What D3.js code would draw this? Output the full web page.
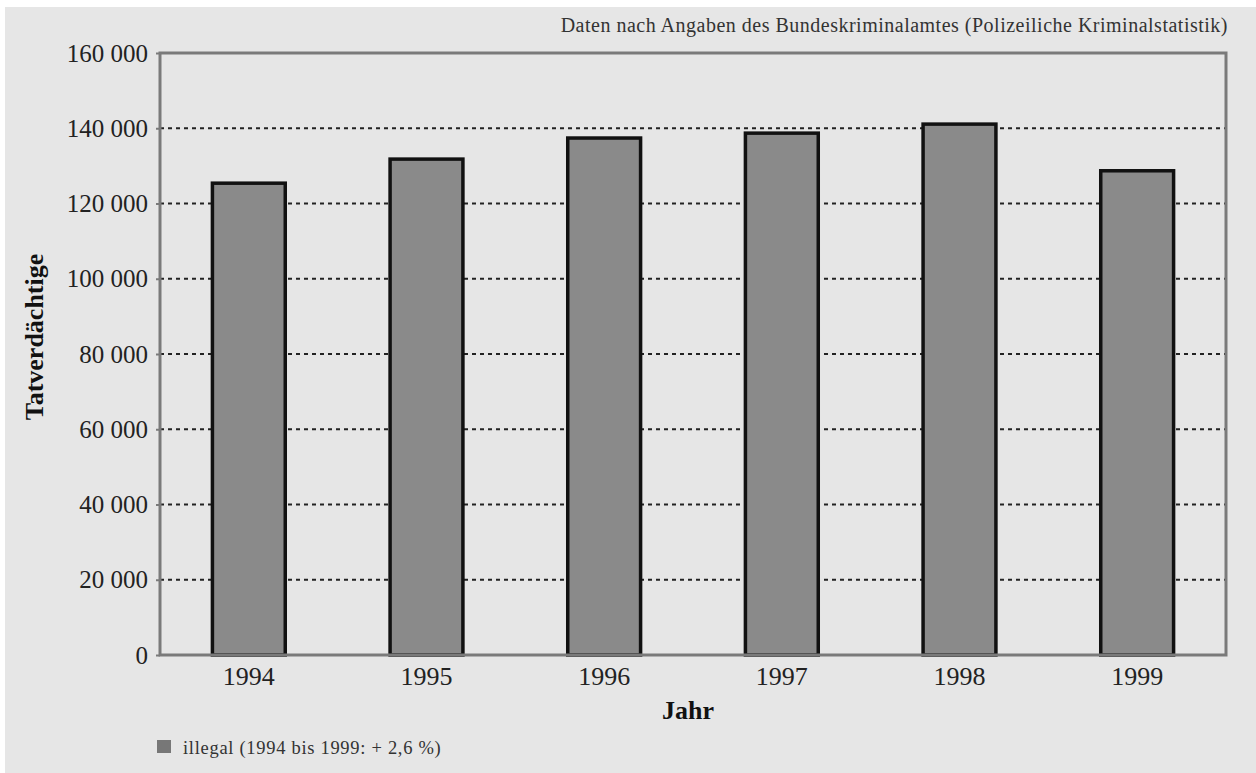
<!DOCTYPE html>
<html>
<head>
<meta charset="utf-8">
<script src="https://cdn.jsdelivr.net/npm/d3@7"></script>
<style>
  body { margin: 0; background: #fff; }
  svg { display: block; }
  svg text { font-family: "Liberation Serif", "DejaVu Serif", serif; }
</style>
</head>
<body>
<div id="graphic"></div>
<script>
// data
const years = ["1994", "1995", "1996", "1997", "1998", "1999"];
const suspects = [125400, 131800, 137400, 138700, 141100, 128700];
const yTicks = [0, 20000, 40000, 60000, 80000, 100000, 120000, 140000, 160000];
const yTickLabels = ["0", "20 000", "40 000", "60 000", "80 000", "100 000", "120 000", "140 000", "160 000"];
const legendLabel = "illegal (1994 bis 1999: + 2,6 %)";
const sourceNote = "Daten nach Angaben des Bundeskriminalamtes (Polizeiliche Kriminalstatistik)";

const W = 1256, H = 773;
const margin = { top: 53, right: 30, bottom: 118, left: 160 },
    width = W - margin.left - margin.right,
    height = H - margin.top - margin.bottom;

const root = d3.select("#graphic")
    .append("svg")
    .attr("width", W)
    .attr("height", H);

// grey page with the white edge at top/left
root.append("rect")
    .attr("x", 5).attr("y", 7)
    .attr("width", W - 5).attr("height", H - 7)
    .attr("fill", "#e6e6e6");

const svg = root.append("g")
    .attr("transform", `translate(${margin.left},${margin.top})`);

const x = d3.scaleBand()
    .range([0, width])
    .domain(years)
    .paddingInner(0.59)
    .paddingOuter(0.295);

const y = d3.scaleLinear()
    .domain([0, 160000])
    .range([height, 0]);

// dashed gridlines
svg.append("g")
    .selectAll("line")
    .data(yTicks.filter(d => d > 0 && d < 160000))
    .join("line")
    .attr("x1", 0).attr("x2", width)
    .attr("y1", d => y(d)).attr("y2", d => y(d))
    .attr("stroke", "#222")
    .attr("stroke-width", 2)
    .attr("stroke-dasharray", "4,4");

// bars
svg.selectAll("mybar")
    .data(years.map((yr, i) => ({ year: yr, value: suspects[i] })))
    .join("rect")
    .attr("x", d => x(d.year))
    .attr("y", d => y(d.value))
    .attr("width", x.bandwidth())
    .attr("height", d => height - y(d.value))
    .attr("fill", "#8a8a8a")
    .attr("stroke", "#111")
    .attr("stroke-width", 3.5);

// frame
svg.append("rect")
    .attr("x", 0).attr("y", 0)
    .attr("width", width).attr("height", height)
    .attr("fill", "none")
    .attr("stroke", "#7a7a7a")
    .attr("stroke-width", 3);

// Y axis
const yAxis = svg.append("g")
    .call(d3.axisLeft(y)
        .tickValues(yTicks)
        .tickSize(4)
        .tickPadding(8)
        .tickFormat((d, i) => yTickLabels[i]));
yAxis.select(".domain").remove();
yAxis.selectAll("line").attr("stroke", "#7a7a7a").attr("stroke-width", 2);
yAxis.selectAll("text")
    .attr("font-family", "Liberation Serif, serif")
    .attr("font-size", 25)
    .attr("fill", "#222");

// X axis
const xAxis = svg.append("g")
    .attr("transform", `translate(0, ${height})`)
    .call(d3.axisBottom(x).tickSize(0).tickPadding(12));
xAxis.select(".domain").remove();
xAxis.selectAll("text")
    .attr("font-family", "Liberation Serif, serif")
    .attr("font-size", 26)
    .attr("fill", "#222");

// axis titles
root.append("text")
    .attr("transform", "translate(43, 337) rotate(-90)")
    .attr("text-anchor", "middle")
    .attr("font-size", 26)
    .attr("font-weight", "bold")
    .attr("fill", "#111")
    .text("Tatverdächtige");

root.append("text")
    .attr("x", 688)
    .attr("y", 719)
    .attr("text-anchor", "middle")
    .attr("font-size", 26)
    .attr("font-weight", "bold")
    .attr("fill", "#111")
    .text("Jahr");

// source note
root.append("text")
    .attr("x", 1228)
    .attr("y", 32)
    .attr("text-anchor", "end")
    .attr("font-size", 20)
    .attr("letter-spacing", 0.5)
    .attr("fill", "#333")
    .text(sourceNote);

// legend
root.append("rect")
    .attr("x", 157).attr("y", 740)
    .attr("width", 14).attr("height", 13)
    .attr("fill", "#777");
root.append("text")
    .attr("x", 183)
    .attr("y", 754)
    .attr("font-size", 18.5)
    .attr("letter-spacing", 0.7)
    .attr("fill", "#333")
    .text(legendLabel);
</script>
</body>
</html>
